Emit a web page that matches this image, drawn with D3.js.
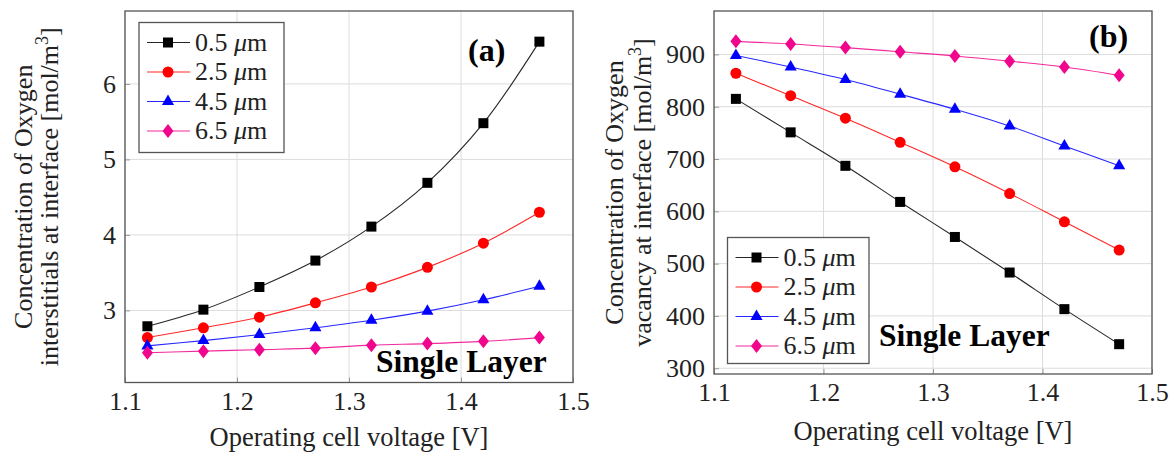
<!DOCTYPE html>
<html>
<head>
<meta charset="utf-8">
<script src="https://cdn.jsdelivr.net/npm/d3@7"></script>
<style>
  html, body { margin: 0; padding: 0; background: #fff; }
  svg { display: block; }
  text { font-family: "Liberation Serif", "DejaVu Serif", serif; }
</style>
</head>
<body>
<svg id="chart" width="1169" height="453"></svg>
<script>
// ---------------- DATA ----------------
const voltages = [1.12, 1.17, 1.22, 1.27, 1.32, 1.37, 1.42, 1.47];
const seriesNames = ["0.5", "2.5", "4.5", "6.5"];
const seriesColors = ["#000000", "#ff0000", "#0000ff", "#f0058c"];
const seriesMarkers = ["square", "circle", "triangle", "diamond"];

// (a) interstitials concentration [mol/m^3]
const interstitial_05 = [2.79, 3.01, 3.31, 3.66, 4.11, 4.69, 5.48, 6.56];
const interstitial_25 = [2.64, 2.77, 2.91, 3.10, 3.31, 3.57, 3.89, 4.30];
const interstitial_45 = [2.53, 2.60, 2.68, 2.77, 2.87, 2.99, 3.14, 3.32];
const interstitial_65 = [2.44, 2.46, 2.48, 2.50, 2.54, 2.56, 2.59, 2.64];

// (b) vacancy concentration [mol/m^3]
const vacancy_05 = [815, 751, 687, 618, 551, 483, 413, 346];
const vacancy_25 = [864, 821, 778, 732, 685, 634, 580, 526];
const vacancy_45 = [898, 876, 852, 824, 795, 763, 725, 687];
const vacancy_65 = [925, 920, 913, 905, 897, 887, 876, 860];

const xTicks = [1.1, 1.2, 1.3, 1.4, 1.5];
const yTicksA = [3, 4, 5, 6];
const yTicksB = [300, 400, 500, 600, 700, 800, 900];

const xLabel = "Operating cell voltage [V]";
const yLabelA = ["Concentration of Oxygen", "interstitials at interface [mol/m", "3", "]"];
const yLabelB = ["Concentration of Oxygen", "vacancy at interface [mol/m", "3", "]"];

// ---------------- DRAW ----------------
const svg = d3.select("#chart");
const FS = 26;

function marker(g, type, cx, cy, color) {
  if (type === "square") {
    g.append("rect").attr("x", cx - 5).attr("y", cy - 5).attr("width", 10).attr("height", 10)
      .attr("fill", color);
  } else if (type === "circle") {
    g.append("circle").attr("cx", cx).attr("cy", cy).attr("r", 5.5).attr("fill", color);
  } else if (type === "triangle") {
    const r = 7;
    const pts = [[cx, cy - r], [cx + r * 0.866, cy + r * 0.5], [cx - r * 0.866, cy + r * 0.5]];
    g.append("polygon").attr("points", pts.map(p => p.join(",")).join(" ")).attr("fill", color);
  } else {
    const w = 5.5, h = 7;
    const pts = [[cx, cy - h], [cx + w, cy], [cx, cy + h], [cx - w, cy]];
    g.append("polygon").attr("points", pts.map(p => p.join(",")).join(" ")).attr("fill", color);
  }
}

function panel(opts) {
  const { left, right, top, bottom, yDomain, yTicks, series, yLabel, yLabelX, yLabelDy, tag, tagPos,
          layerPos, legendPos, tickFmt } = opts;
  const x = d3.scaleLinear().domain([1.1, 1.5]).range([left, right]);
  const y = d3.scaleLinear().domain(yDomain).range([bottom, top]);
  const g = svg.append("g");

  // grid
  g.append("g").selectAll("line").data(xTicks).join("line")
    .attr("x1", d => x(d)).attr("x2", d => x(d)).attr("y1", top).attr("y2", bottom)
    .attr("stroke", "#dcdcdc").attr("stroke-width", 1);
  g.append("g").selectAll("line").data(yTicks).join("line")
    .attr("x1", left).attr("x2", right).attr("y1", d => y(d)).attr("y2", d => y(d))
    .attr("stroke", "#dcdcdc").attr("stroke-width", 1);

  // axes
  const xAxis = d3.axisBottom(x).tickValues(xTicks).tickSize(-5).tickPadding(9)
    .tickFormat(d3.format(".1f"));
  const ax = g.append("g").attr("transform", `translate(0,${bottom})`).call(xAxis);
  const yAxis = d3.axisLeft(y).tickValues(yTicks).tickSize(-5).tickPadding(9)
    .tickFormat(tickFmt);
  const ay = g.append("g").attr("transform", `translate(${left},0)`).call(yAxis);
  [ax, ay].forEach(a => {
    a.select(".domain").remove();
    a.selectAll(".tick line").attr("stroke", "#999");
    a.selectAll(".tick text").attr("font-size", FS).attr("fill", "#222");
  });
  ax.selectAll(".tick text").attr("dy", "0.71em");

  // frame
  g.append("rect").attr("x", left).attr("y", top).attr("width", right - left).attr("height", bottom - top)
    .attr("fill", "none").attr("stroke", "#555").attr("stroke-width", 1.3);

  // lines + markers
  const line = d3.line().x((d, i) => x(voltages[i])).y(d => y(d)).curve(d3.curveCatmullRom.alpha(0.5));
  series.forEach((vals, si) => {
    g.append("path").attr("d", line(vals)).attr("fill", "none")
      .attr("stroke", seriesColors[si]).attr("stroke-width", 1.1).attr("opacity", 0.85);
  });
  series.forEach((vals, si) => {
    const mg = g.append("g");
    vals.forEach((v, i) => marker(mg, seriesMarkers[si], x(voltages[i]), y(v), seriesColors[si]));
  });

  // axis labels
  g.append("text").attr("x", (left + right) / 2).attr("y", opts.xLabelY).attr("text-anchor", "middle")
    .attr("font-size", FS + 0.5).attr("fill", "#222").text(xLabel);
  const cy = (top + bottom) / 2;
  const yl = g.append("text").attr("transform", `translate(${yLabelX},${cy}) rotate(-90)`)
    .attr("text-anchor", "middle").attr("font-size", FS).attr("fill", "#222");
  yl.append("tspan").attr("x", 0).attr("dy", 0).text(yLabel[0]);
  const t2 = yl.append("tspan").attr("x", 0).attr("dy", yLabelDy);
  t2.append("tspan").text(yLabel[1]);
  t2.append("tspan").attr("baseline-shift", "super").attr("font-size", 18).text(yLabel[2]);
  t2.append("tspan").text(yLabel[3]);

  // tag and Single Layer
  g.append("text").attr("x", tagPos[0]).attr("y", tagPos[1]).attr("font-size", 32)
    .attr("font-weight", "bold").attr("fill", "#000").text(tag);
  g.append("text").attr("x", layerPos[0]).attr("y", layerPos[1]).attr("font-size", 31.5)
    .attr("font-weight", "bold").attr("fill", "#000").text("Single Layer");

  // legend
  const [lx, ly, lw, lh] = legendPos;
  const lg = g.append("g");
  lg.append("rect").attr("x", lx).attr("y", ly).attr("width", lw).attr("height", lh)
    .attr("fill", "#fff").attr("stroke", "#555").attr("stroke-width", 1.3);
  seriesNames.forEach((name, si) => {
    const ry = ly + 20 + si * 29.5;
    lg.append("line").attr("x1", lx + 8).attr("x2", lx + 51).attr("y1", ry).attr("y2", ry)
      .attr("stroke", seriesColors[si]).attr("stroke-width", 1.1).attr("opacity", 0.85);
    marker(lg, seriesMarkers[si], lx + 29, ry, seriesColors[si]);
    const t = lg.append("text").attr("x", lx + 56).attr("y", ry + 8).attr("font-size", FS).attr("fill", "#222");
    t.append("tspan").text(name + " ");
    t.append("tspan").attr("font-style", "italic").text("μ");
    t.append("tspan").text("m");
  });
}

panel({
  left: 125, right: 573, top: 11, bottom: 382.5,
  yDomain: [2.045, 6.966], yTicks: yTicksA,
  series: [interstitial_05, interstitial_25, interstitial_45, interstitial_65],
  yLabel: yLabelA, yLabelX: 32, yLabelDy: 26, xLabelY: 446,
  tag: "(a)", tagPos: [468, 61], layerPos: [376, 372],
  legendPos: [139, 22.5, 145, 130], tickFmt: d3.format("d")
});

panel({
  left: 714, right: 1152, top: 11, bottom: 374,
  yDomain: [289, 983], yTicks: yTicksB,
  series: [vacancy_05, vacancy_25, vacancy_45, vacancy_65],
  yLabel: yLabelB, yLabelX: 623, yLabelDy: 28, xLabelY: 440,
  tag: "(b)", tagPos: [1089, 47], layerPos: [879, 346],
  legendPos: [727.5, 237.5, 141.5, 126], tickFmt: d3.format("d")
});
</script>
</body>
</html>
